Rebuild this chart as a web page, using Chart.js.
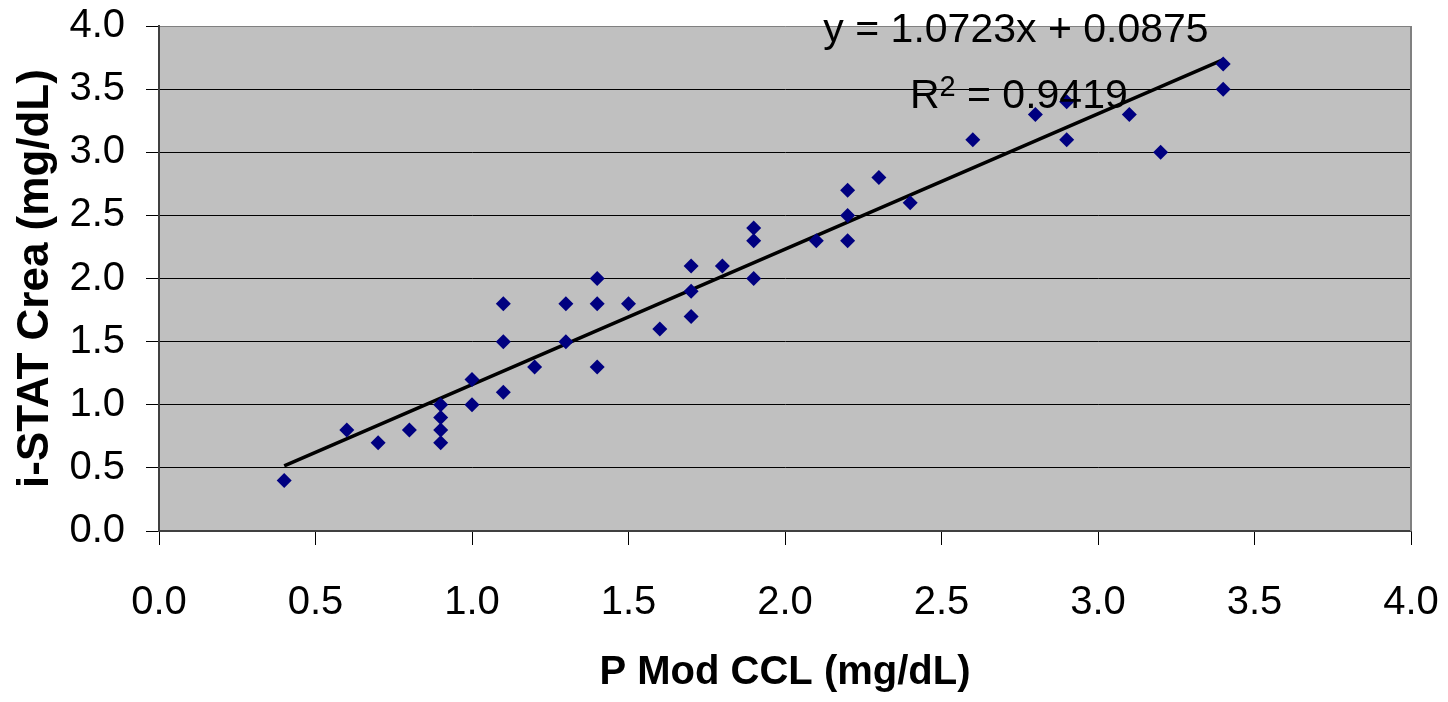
<!DOCTYPE html>
<html>
<head>
<meta charset="utf-8">
<script src="https://cdn.jsdelivr.net/npm/chart.js@4/dist/chart.umd.min.js"></script>
<style>
html, body { margin: 0; padding: 0; background: #ffffff; }
#wrap { width: 1448px; height: 702px; position: relative; }
</style>
</head>
<body>
<div id="wrap"><canvas id="c" width="1448" height="702"></canvas></div>
<script>
// ---- data ----
const xValues = [0.4, 0.6, 0.7, 0.8, 0.9, 0.9, 0.9, 0.9, 1.0, 1.0, 1.1, 1.1, 1.1, 1.2, 1.3, 1.3, 1.4, 1.4, 1.4, 1.5, 1.6, 1.7, 1.7, 1.7, 1.8, 1.9, 1.9, 1.9, 2.1, 2.2, 2.2, 2.2, 2.3, 2.4, 2.6, 2.8, 2.9, 2.9, 3.1, 3.2, 3.4, 3.4];
const yValues = [0.4, 0.8, 0.7, 0.8, 1.0, 0.9, 0.8, 0.7, 1.2, 1.0, 1.8, 1.5, 1.1, 1.3, 1.8, 1.5, 2.0, 1.8, 1.3, 1.8, 1.6, 2.1, 1.9, 1.7, 2.1, 2.4, 2.3, 2.0, 2.3, 2.7, 2.5, 2.3, 2.8, 2.6, 3.1, 3.3, 3.4, 3.1, 3.3, 3.0, 3.7, 3.5];
const xTickValues = [0.0, 0.5, 1.0, 1.5, 2.0, 2.5, 3.0, 3.5, 4.0];
const yTickValues = [0.0, 0.5, 1.0, 1.5, 2.0, 2.5, 3.0, 3.5, 4.0];
const trendSlope = 1.0723;
const trendIntercept = 0.0875;
const trendXRange = [0.4, 3.4];
const equationText = 'y = 1.0723x + 0.0875';
const r2Text = '0.9419';
const xTitle = 'P Mod CCL (mg/dL)';
const yTitle = 'i-STAT Crea (mg/dL)';
// annotation anchors in data units
const equationAnchor = [2.738, 3.873];
const r2Anchor = [2.399, 3.350];

const FONT = "'Liberation Sans', Arial, Helvetica, sans-serif";

const scatterData = xValues.map((x, i) => ({ x: x, y: yValues[i] }));
const trendData = trendXRange.map(x => ({ x: x, y: trendSlope * x + trendIntercept }));

const plotBackground = {
  id: 'plotBackground',
  beforeDraw(chart) {
    const { ctx, chartArea: a } = chart;
    ctx.save();
    ctx.fillStyle = '#c0c0c0';
    ctx.fillRect(a.left, a.top, a.right - a.left, a.bottom - a.top);
    ctx.restore();
  },
  afterDraw(chart) {
    const { ctx, chartArea: a } = chart;
    ctx.save();
    ctx.strokeStyle = '#808080';
    ctx.lineWidth = 2;
    ctx.beginPath();
    ctx.moveTo(a.right, a.top);
    ctx.lineTo(a.right, a.bottom);
    ctx.stroke();
    ctx.restore();
  }
};

const equationLabels = {
  id: 'equationLabels',
  afterDatasetsDraw(chart) {
    const { ctx, scales } = chart;
    const xs = scales.x, ys = scales.y;
    ctx.save();
    ctx.fillStyle = '#000000';
    ctx.textBaseline = 'alphabetic';
    ctx.font = '41px ' + FONT;
    ctx.textAlign = 'center';
    ctx.fillText(equationText, xs.getPixelForValue(equationAnchor[0]), ys.getPixelForValue(equationAnchor[1]));
    // R^2 line
    let px = xs.getPixelForValue(r2Anchor[0]);
    const py = ys.getPixelForValue(r2Anchor[1]);
    ctx.textAlign = 'left';
    ctx.font = '41px ' + FONT;
    ctx.fillText('R', px, py);
    px += ctx.measureText('R').width;
    ctx.font = '29px ' + FONT;
    ctx.fillText('2', px, py - 12);
    px += ctx.measureText('2').width;
    ctx.font = '41px ' + FONT;
    ctx.fillText(' = ' + r2Text, px, py);
    ctx.restore();
  }
};

new Chart(document.getElementById('c'), {
  data: {
    datasets: [
      {
        type: 'scatter',
        label: 'Data',
        data: scatterData,
        pointStyle: 'rectRot',
        pointRadius: 7.5,
        pointHoverRadius: 7.5,
        backgroundColor: '#000080',
        borderColor: '#000080',
        borderWidth: 0,
        order: 1
      },
      {
        type: 'line',
        label: 'Linear fit',
        data: trendData,
        borderColor: '#000000',
        borderWidth: 3.5,
        pointRadius: 0,
        fill: false,
        tension: 0,
        order: 2
      }
    ]
  },
  options: {
    responsive: false,
    animation: false,
    devicePixelRatio: 1,
    layout: { padding: { top: 26, right: 37, left: 0, bottom: 0 } },
    plugins: {
      legend: { display: false },
      tooltip: { enabled: false }
    },
    scales: {
      x: {
        type: 'linear',
        min: 0, max: 4,
        afterBuildTicks: s => { s.ticks = xTickValues.map(v => ({ value: v })); },
        afterFit: s => { s.height = 171; s.paddingLeft = 0; s.paddingRight = 0; },
        ticks: {
          callback: v => Number(v).toFixed(1),
          font: { family: FONT, size: 40 },
          color: '#000000',
          padding: 34,
          maxRotation: 0,
          autoSkip: false
        },
        grid: {
          drawOnChartArea: false,
          drawTicks: true,
          tickLength: 14,
          tickColor: '#000000',
          tickWidth: 1
        },
        border: { display: true, color: '#404040', width: 2 },
        title: {
          display: true,
          text: xTitle,
          font: { family: FONT, size: 40, weight: 'bold' },
          color: '#000000',
          padding: { top: 0, bottom: 5 }
        }
      },
      y: {
        type: 'linear',
        min: 0, max: 4,
        afterBuildTicks: s => { s.ticks = yTickValues.map(v => ({ value: v })); },
        afterFit: s => { s.width = 159; s.paddingTop = 0; s.paddingBottom = 0; },
        ticks: {
          callback: v => Number(v).toFixed(1),
          font: { family: FONT, size: 40 },
          color: '#000000',
          padding: 21,
          autoSkip: false
        },
        grid: {
          drawOnChartArea: true,
          drawTicks: true,
          tickLength: 13,
          color: ctx => (ctx.tick && ctx.tick.value === 4 ? '#808080' : '#000000'),
          tickColor: '#000000',
          lineWidth: 1
        },
        border: { display: true, color: '#404040', width: 2 },
        title: {
          display: true,
          text: yTitle,
          font: { family: FONT, size: 44, weight: 'bold' },
          color: '#000000',
          padding: { top: 9, bottom: 0 }
        }
      }
    }
  },
  plugins: [plotBackground, equationLabels]
});
</script>
</body>
</html>
